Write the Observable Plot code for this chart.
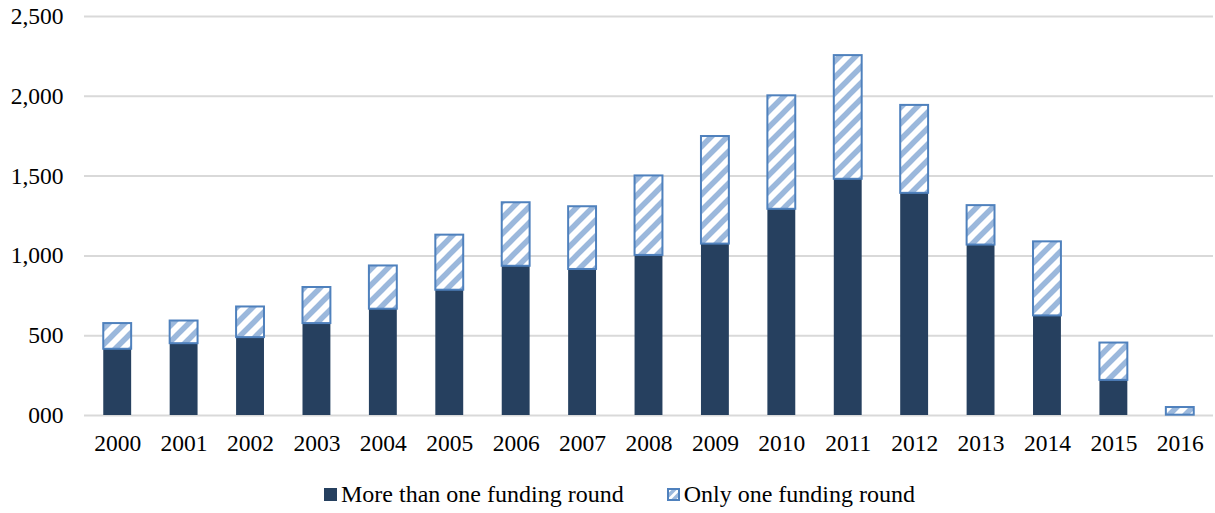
<!DOCTYPE html>
<html>
<head>
<meta charset="utf-8">
<script src="https://cdn.jsdelivr.net/npm/d3@7"></script>
<script src="https://cdn.jsdelivr.net/npm/@observablehq/plot@0.6"></script>
<style>
  html, body { margin: 0; padding: 0; background: #fff; }
  body { width: 1215px; height: 513px; overflow: hidden; font-family: 'Liberation Serif'; }
  svg text { font-family: 'Liberation Serif' !important; }
  #legend { display: flex; justify-content: center; align-items: center; padding-top: 11px; padding-left: 24px; height: 26px; line-height: 26px; font-size: 24px; color: #000; font-family: 'Liberation Serif'; }
  .item { display: flex; align-items: center; }
  .item + .item { margin-left: 43px; }
  .sw { width: 13px; height: 13px; margin-right: 4px; display: block; }
</style>
</head>
<body>
<div id="chart"></div>
<div id="legend"></div>
<script>
const years = ["2000","2001","2002","2003","2004","2005","2006","2007","2008","2009","2010","2011","2012","2013","2014","2015","2016"];
const moreThanOne = [415, 450, 488, 576, 666, 785, 935, 915, 1003, 1074, 1292, 1480, 1392, 1068, 624, 220, 2];
const onlyOne = [161, 142, 192, 226, 271, 345, 398, 393, 498, 674, 711, 775, 551, 247, 464, 234, 48];
const yTicks = [0, 500, 1000, 1500, 2000, 2500];
const yTickLabels = ["000", "500", "1,000", "1,500", "2,000", "2,500"];
const seriesNames = ["More than one funding round", "Only one funding round"];

const data = years.map((year, i) => ({
  year,
  more: moreThanOne[i],
  total: moreThanOne[i] + onlyOne[i]
}));

const darkColor = "#26405F";
const hatchLine = "#9BB8DC";
const hatchEdge = "#4F81BD";

const svg = Plot.plot({
  width: 1215,
  height: 470,
  marginTop: 16,
  marginBottom: 55,
  marginLeft: 84,
  marginRight: 2,
  style: { fontFamily: "Liberation Serif", fontSize: "23.5px", background: "#fff", color: "#000" },
  x: { domain: years, paddingInner: 0.58, paddingOuter: 0.29, align: 0.5, round: false, label: null },
  y: { domain: [0, 2500], label: null },
  marks: [
    Plot.ruleY(yTicks, { stroke: "#d9d9d9", strokeWidth: 2 }),
    Plot.barY(data, { x: "year", y1: 0, y2: "more", fill: darkColor }),
    Plot.barY(data, { x: "year", y1: "more", y2: "total", fill: "url(#hatch)", stroke: hatchEdge, strokeWidth: 2 }),
    Plot.axisX({ tickSize: 0, tickPadding: 19, fontSize: 23.5, fill: "#000" }),
    Plot.axisY(yTicks, { tickSize: 0, tickPadding: 21, fontSize: 23.5, fill: "#000", tickFormat: d => yTickLabels[yTicks.indexOf(d)] })
  ]
});

const ns = "http://www.w3.org/2000/svg";
function makePattern(id, size, sw) {
  const pat = document.createElementNS(ns, "pattern");
  pat.setAttribute("id", id);
  pat.setAttribute("patternUnits", "userSpaceOnUse");
  pat.setAttribute("width", size);
  pat.setAttribute("height", size);
  const r = document.createElementNS(ns, "rect");
  r.setAttribute("width", size); r.setAttribute("height", size); r.setAttribute("fill", "#fff");
  pat.appendChild(r);
  const p = document.createElementNS(ns, "path");
  const s = size, q = size / 4;
  p.setAttribute("d", `M${-q},${q}L${q},${-q}M0,${s}L${s},0M${s - q},${s + q}L${s + q},${s - q}`);
  p.setAttribute("stroke", hatchLine);
  p.setAttribute("stroke-width", sw);
  pat.appendChild(p);
  return pat;
}
const defs = document.createElementNS(ns, "defs");
defs.appendChild(makePattern("hatch", 16, 5.5));
defs.appendChild(makePattern("hatchSmall", 9, 3.5));
svg.insertBefore(defs, svg.firstChild);
document.getElementById("chart").appendChild(svg);

const legend = document.getElementById("legend");
legend.innerHTML = `
  <div class="item"><svg class="sw" width="13" height="13"><rect width="13" height="13" fill="${darkColor}"/></svg><span>${seriesNames[0]}</span></div>
  <div class="item"><svg class="sw" width="13" height="13"><rect x="1" y="1" width="11" height="11" fill="url(#hatchSmall)" stroke="${hatchEdge}" stroke-width="2"/></svg><span>${seriesNames[1]}</span></div>
`;
</script>
</body>
</html>
